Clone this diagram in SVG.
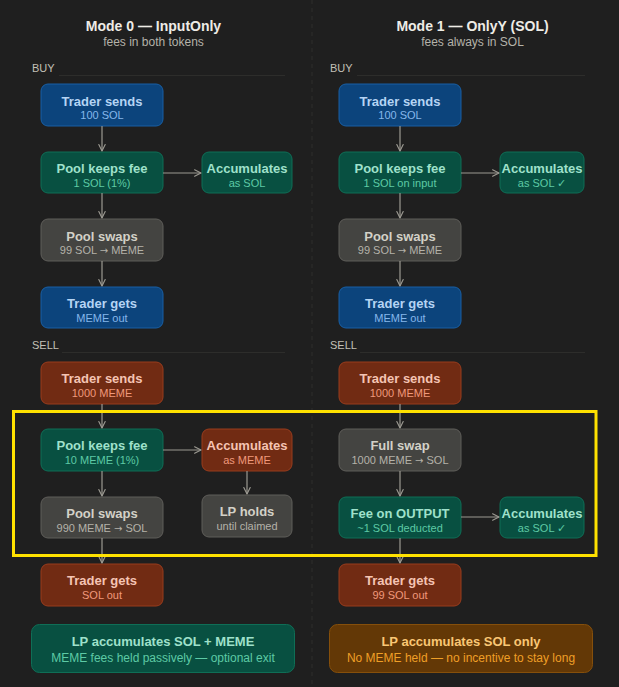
<svg xmlns="http://www.w3.org/2000/svg" width="619" height="687" viewBox="0 0 619 687">
<defs>
<marker id="ah" viewBox="0 0 10 10" refX="9" refY="5" markerWidth="8" markerHeight="8" markerUnits="userSpaceOnUse" orient="auto">
<path d="M1 1 L9 5 L1 9" fill="none" stroke="#9c9a92" stroke-width="1.4" stroke-linecap="round" stroke-linejoin="round"/>
</marker>
<style>
text{font-family:"Liberation Sans",Arial,sans-serif;text-anchor:middle}
.ar{font-family:"DejaVu Sans",sans-serif;font-size:10px}
.h{font-size:14px;font-weight:bold;fill:#eeece6}
.hs{font-size:12px;fill:#b4b2a9}
.sec{font-size:11px;fill:#c2c0b6;text-anchor:start}
.rule{stroke:#2d2d2b;stroke-width:1}
.t{font-size:13px;font-weight:bold}
.s{font-size:11px}
rect.n{stroke-width:1}
.blue rect{fill:#0c447c;stroke:#185fa5}
.blue .t{fill:#b5d4f4}.blue .s{fill:#85b7eb}
.green rect{fill:#085041;stroke:#0f6e56}
.green .t{fill:#9fe1cb}.green .s{fill:#5dcaa5}
.gray rect{fill:#444441;stroke:#5f5e5a}
.gray .t{fill:#d3d1c7}.gray .s{fill:#b4b2a9}
.coral rect{fill:#712b13;stroke:#993c1d}
.coral .t{fill:#f5c4b3}.coral .s{fill:#f0997b}
.amber rect{fill:#633806;stroke:#854f0b}
.amber .t{fill:#fac775}.amber .s{fill:#ef9f27}
.c line{stroke:#9c9a92;stroke-width:1.2;marker-end:url(#ah)}
</style>
</defs>
<rect x="0" y="0" width="619" height="687" fill="#1f1f1f"/>
<line x1="312" y1="0" x2="312" y2="687" stroke="#2e2e2c" stroke-width="1" stroke-dasharray="4 4"/>

<text class="h" x="153.5" y="31">Mode 0 — InputOnly</text>
<text class="hs" x="153.5" y="46">fees in both tokens</text>
<text class="h" x="472.5" y="31">Mode 1 — OnlyY (SOL)</text>
<text class="hs" x="472.5" y="46">fees always in SOL</text>

<text class="sec" x="32" y="72">BUY</text>
<line class="rule" x1="59" y1="75.5" x2="285" y2="75.5"/>
<text class="sec" x="32" y="349">SELL</text>
<line class="rule" x1="62" y1="352.5" x2="285" y2="352.5"/>
<text class="sec" x="330" y="72">BUY</text>
<line class="rule" x1="357" y1="75.5" x2="585" y2="75.5"/>
<text class="sec" x="330" y="349">SELL</text>
<line class="rule" x1="360" y1="352.5" x2="585" y2="352.5"/>

<g id="l-buy-send" class="blue"><rect class="n" x="41" y="84" width="122" height="42" rx="7"/><text class="t" x="102" y="106">Trader sends</text><text class="s" x="102" y="119">100 SOL</text></g>
<g id="l-buy-fee" class="green"><rect class="n" x="41" y="152" width="122" height="41" rx="7"/><text class="t" x="102" y="173">Pool keeps fee</text><text class="s" x="102" y="187">1 SOL (1%)</text></g>
<g id="l-buy-acc" class="green"><rect class="n" x="202" y="152" width="90" height="41" rx="7"/><text class="t" x="247" y="173">Accumulates</text><text class="s" x="247" y="187">as SOL</text></g>
<g id="l-buy-swap" class="gray"><rect class="n" x="41" y="219" width="122" height="42" rx="7"/><text class="t" x="102" y="241">Pool swaps</text><text class="s" x="102" y="254">99 SOL <tspan class="ar">→</tspan> MEME</text></g>
<g id="l-buy-get" class="blue"><rect class="n" x="41" y="287" width="122" height="41" rx="7"/><text class="t" x="102" y="308">Trader gets</text><text class="s" x="102" y="322">MEME out</text></g>

<g id="l-sell-send" class="coral"><rect class="n" x="41" y="362" width="122" height="42" rx="7"/><text class="t" x="102" y="383">Trader sends</text><text class="s" x="102" y="397">1000 MEME</text></g>
<g id="l-sell-fee" class="green"><rect class="n" x="41" y="429" width="122" height="42" rx="7"/><text class="t" x="102" y="450">Pool keeps fee</text><text class="s" x="102" y="464">10 MEME (1%)</text></g>
<g id="l-sell-acc" class="coral"><rect class="n" x="202" y="429" width="90" height="42" rx="7"/><text class="t" x="247" y="450">Accumulates</text><text class="s" x="247" y="464">as MEME</text></g>
<g id="l-sell-hold" class="gray"><rect class="n" x="202" y="495" width="90" height="42" rx="7"/><text class="t" x="247" y="516">LP holds</text><text class="s" x="247" y="530">until claimed</text></g>
<g id="l-sell-swap" class="gray"><rect class="n" x="41" y="497" width="122" height="41" rx="7"/><text class="t" x="102" y="518">Pool swaps</text><text class="s" x="102" y="532">990 MEME <tspan class="ar">→</tspan> SOL</text></g>
<g id="l-sell-get" class="coral"><rect class="n" x="41" y="564" width="122" height="42" rx="7"/><text class="t" x="102" y="585">Trader gets</text><text class="s" x="102" y="599">SOL out</text></g>

<g id="r-buy-send" class="blue"><rect class="n" x="339" y="84" width="122" height="42" rx="7"/><text class="t" x="400" y="106">Trader sends</text><text class="s" x="400" y="119">100 SOL</text></g>
<g id="r-buy-fee" class="green"><rect class="n" x="339" y="152" width="122" height="41" rx="7"/><text class="t" x="400" y="173">Pool keeps fee</text><text class="s" x="400" y="187">1 SOL on input</text></g>
<g id="r-buy-acc" class="green"><rect class="n" x="500" y="152" width="84" height="41" rx="7"/><text class="t" x="542" y="173">Accumulates</text><text class="s" x="542" y="187">as SOL ✓</text></g>
<g id="r-buy-swap" class="gray"><rect class="n" x="339" y="219" width="122" height="42" rx="7"/><text class="t" x="400" y="241">Pool swaps</text><text class="s" x="400" y="254">99 SOL <tspan class="ar">→</tspan> MEME</text></g>
<g id="r-buy-get" class="blue"><rect class="n" x="339" y="287" width="122" height="41" rx="7"/><text class="t" x="400" y="308">Trader gets</text><text class="s" x="400" y="322">MEME out</text></g>

<g id="r-sell-send" class="coral"><rect class="n" x="339" y="362" width="122" height="42" rx="7"/><text class="t" x="400" y="383">Trader sends</text><text class="s" x="400" y="397">1000 MEME</text></g>
<g id="r-sell-swap" class="gray"><rect class="n" x="339" y="429" width="122" height="42" rx="7"/><text class="t" x="400" y="450">Full swap</text><text class="s" x="400" y="464">1000 MEME <tspan class="ar">→</tspan> SOL</text></g>
<g id="r-sell-fee" class="green"><rect class="n" x="339" y="497" width="122" height="41" rx="7"/><text class="t" x="400" y="518">Fee on OUTPUT</text><text class="s" x="400" y="532">~1 SOL deducted</text></g>
<g id="r-sell-acc" class="green"><rect class="n" x="500" y="497" width="84" height="41" rx="7"/><text class="t" x="542" y="518">Accumulates</text><text class="s" x="542" y="532">as SOL ✓</text></g>
<g id="r-sell-get" class="coral"><rect class="n" x="339" y="564" width="122" height="42" rx="7"/><text class="t" x="400" y="585">Trader gets</text><text class="s" x="400" y="599">99 SOL out</text></g>

<g id="l-summary" class="green"><rect class="n" x="31.5" y="624.5" width="263" height="48" rx="8"/><text class="t" x="163" y="646">LP accumulates SOL + MEME</text><text class="s" x="163" y="662" style="font-size:12px">MEME fees held passively — optional exit</text></g>
<g id="r-summary" class="amber"><rect class="n" x="329.5" y="624.5" width="263" height="48" rx="8"/><text class="t" x="461" y="646">LP accumulates SOL only</text><text class="s" x="461" y="662" style="font-size:12px">No MEME held — no incentive to stay long</text></g>

<g id="connectors" class="c">
<line x1="102" y1="126" x2="102" y2="151"/>
<line x1="102" y1="193" x2="102" y2="218"/>
<line x1="102" y1="261" x2="102" y2="286"/>
<line x1="163" y1="173" x2="201" y2="173"/>
<line x1="400" y1="126" x2="400" y2="151"/>
<line x1="400" y1="193" x2="400" y2="218"/>
<line x1="400" y1="261" x2="400" y2="286"/>
<line x1="461" y1="173" x2="499" y2="173"/>
<line x1="102" y1="404" x2="102" y2="428"/>
<line x1="102" y1="471" x2="102" y2="496"/>
<line x1="102" y1="538" x2="102" y2="563"/>
<line x1="163" y1="450" x2="201" y2="450"/>
<line x1="247" y1="471" x2="247" y2="494"/>
<line x1="400" y1="404" x2="400" y2="428"/>
<line x1="400" y1="471" x2="400" y2="496"/>
<line x1="400" y1="538" x2="400" y2="563"/>
<line x1="461" y1="517" x2="499" y2="517"/>
</g>

<rect x="13.5" y="411.5" width="582.5" height="144" fill="none" stroke="#ffe100" stroke-width="3"/>
</svg>
